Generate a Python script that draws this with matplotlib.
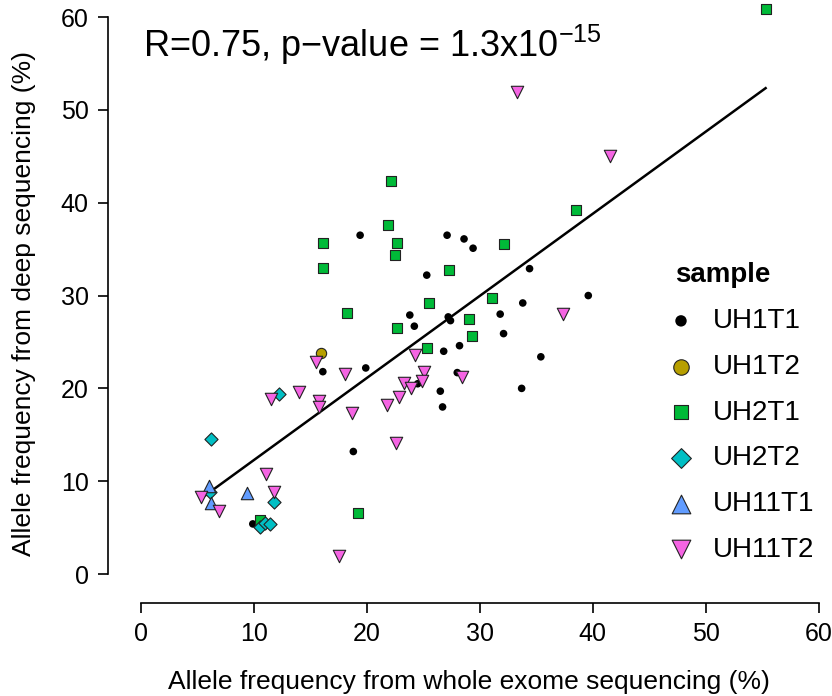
import matplotlib
matplotlib.use("Agg")
import matplotlib.pyplot as plt
import numpy as np

plt.rcParams["font.family"] = ["Liberation Sans", "DejaVu Sans"]
plt.rcParams["mathtext.default"] = "regular"

# ------------------------------------------------------------
# Data (x = WES %, y = deep seq %)
# ------------------------------------------------------------
uh1t1_x = [19.4, 27.1, 28.6, 29.4, 25.3, 34.4, 39.6, 33.8, 31.8, 23.8, 27.2, 27.4, 24.2,
           32.1, 28.2, 26.8, 35.4, 19.9, 16.1, 28.0, 24.5, 33.7, 26.5, 26.7, 18.8, 9.9]
uh1t1_y = [36.5, 36.5, 36.1, 35.1, 32.2, 32.9, 30.0, 29.2, 28.0, 27.9, 27.7, 27.3, 26.7,
           25.9, 24.6, 24.0, 23.4, 22.2, 21.8, 21.7, 20.5, 20.0, 19.7, 18.0, 13.2, 5.4]

uh1t2_x = [15.9]
uh1t2_y = [23.8]

uh2t1_x = [55.3, 38.5, 22.1, 21.9, 16.1, 22.7, 32.1, 22.5, 16.1, 27.3, 31.1, 25.5, 18.2,
           29.0, 22.7, 29.3, 25.3, 19.2, 10.5]
uh2t1_y = [60.9, 39.2, 42.3, 37.6, 35.7, 35.7, 35.6, 34.4, 33.0, 32.8, 29.7, 29.2, 28.1,
           27.5, 26.5, 25.6, 24.3, 6.6, 5.8]

uh2t2_x = [12.2, 6.2, 6.1, 11.8, 10.5, 11.0, 11.4]
uh2t2_y = [19.4, 14.5, 8.8, 7.8, 5.1, 5.5, 5.4]

uh11t1_x = [6.0, 9.4, 6.2]
uh11t1_y = [9.5, 8.7, 7.7]

uh11t2_x = [33.3, 41.5, 37.4, 28.4, 15.5, 18.1, 24.3, 25.1, 24.9, 23.3, 23.9, 22.8, 21.8,
            14.0, 11.5, 15.8, 15.8, 18.7, 22.6, 11.1, 5.3, 11.8, 6.9, 17.5]
uh11t2_y = [51.9, 45.0, 28.0, 21.2, 22.8, 21.6, 23.6, 21.8, 20.8, 20.6, 20.0, 19.1, 18.2,
            19.6, 18.9, 18.6, 18.0, 17.4, 14.1, 10.8, 8.3, 8.8, 6.8, 1.9]

sample_names = ["UH1T1", "UH1T2", "UH2T1", "UH2T2", "UH11T1", "UH11T2"]
sample_x = [uh1t1_x, uh1t2_x, uh2t1_x, uh2t2_x, uh11t1_x, uh11t2_x]
sample_y = [uh1t1_y, uh1t2_y, uh2t1_y, uh2t2_y, uh11t1_y, uh11t2_y]
sample_colors = ["black", "#B79F00", "#00BA38", "#00BFC4", "#619CFF", "#F564E3"]
sample_markers = ["o", "o", "s", "D", "^", "v"]
sample_sizes = [30, 55, 50, 45, 80, 80]

stat_text = "R=0.75, p\u2212value = 1.3x10$^{\u221215}$"

# ------------------------------------------------------------
# Figure
# ------------------------------------------------------------
fig = plt.figure(figsize=(8.32, 6.96), dpi=100)
ax = fig.add_axes([108 / 832, 1 - 603 / 696, 722 / 832, 598 / 696])

for name, xs, ys, col, mk, sz in zip(sample_names, sample_x, sample_y,
                                     sample_colors, sample_markers, sample_sizes):
    ec = "none" if name == "UH1T1" else "#222222"
    ax.scatter(xs, ys, s=sz, c=col, marker=mk, edgecolors=ec, linewidths=0.8,
               label=name, clip_on=False, zorder=3)

# regression line over all points
all_x = np.concatenate([np.array(v) for v in sample_x])
all_y = np.concatenate([np.array(v) for v in sample_y])
slope, intercept = np.polyfit(all_x, all_y, 1)
lx = np.array([all_x.min(), all_x.max()])
ax.plot(lx, slope * lx + intercept, color="black", lw=1.8, zorder=2)

ax.set_xlim(-2.92, 61.0)
ax.set_ylim(-3.12, 61.3)
ax.set_xticks(range(0, 61, 10))
ax.set_yticks(range(0, 61, 10))
ax.spines["top"].set_visible(False)
ax.spines["right"].set_visible(False)
ax.spines["bottom"].set_bounds(0, 60)
ax.spines["left"].set_bounds(0, 60)
for sp in ("bottom", "left"):
    ax.spines[sp].set_linewidth(1.2)
ax.tick_params(direction="out", length=7, width=1.2, labelsize=18, pad=7)

ax.set_xlabel("Allele frequency from whole exome sequencing (%)", fontsize=19, labelpad=17)
ax.set_ylabel("Allele frequency from deep sequencing (%)", fontsize=19, labelpad=18)

ax.text(0.2, 57.0, stat_text, fontsize=26, ha="left", va="center")

leg = ax.legend(title="sample", loc="upper left", bbox_to_anchor=(656 / 832, 1 - 243 / 696),
                bbox_transform=fig.transFigure, frameon=False, fontsize=20,
                title_fontproperties={"weight": "bold", "size": 20},
                labelspacing=0.71, handlelength=0.4, handletextpad=0.95,
                markerscale=1.5, alignment="left", borderpad=0.2)

fig.savefig("out.png", dpi=100)
